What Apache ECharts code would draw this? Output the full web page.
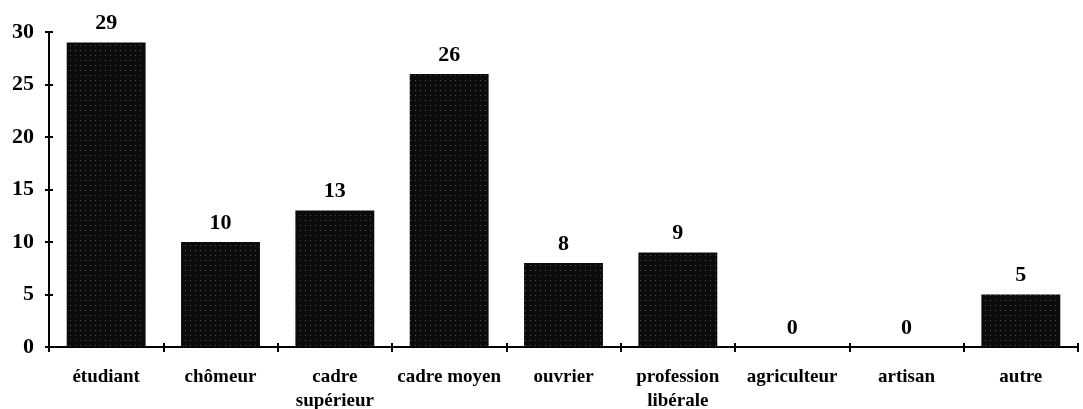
<!DOCTYPE html>
<html>
<head>
<meta charset="utf-8">
<script src="https://cdn.jsdelivr.net/npm/echarts@6/dist/echarts.min.js"></script>
<style>html,body{margin:0;padding:0;background:#fff}#c{width:1083px;height:409px}</style>
</head>
<body>
<div id="c"></div>
<script>
const categories = ['étudiant', 'chômeur', 'cadre\nsupérieur', 'cadre moyen', 'ouvrier', 'profession\nlibérale', 'agriculteur', 'artisan', 'autre'];
const values = [29, 10, 13, 26, 8, 9, 0, 0, 5];
const yTicks = { min: 0, max: 30, interval: 5 };

const font = '"Liberation Serif", "Times New Roman", serif';
const chart = echarts.init(document.getElementById('c'));
const axisLine = { show: true, lineStyle: { color: '#000', width: 2 } };
chart.setOption({
  animation: false,
  grid: { left: 49, right: 5, top: 32, bottom: 62, outerBoundsMode: 'none', containLabel: false },
  xAxis: [
    {
      type: 'category', data: categories, position: 'bottom',
      axisLine: axisLine,
      axisTick: { show: true, alignWithLabel: false, length: 5, lineStyle: { color: '#000', width: 2 } },
      axisLabel: { margin: 18, color: '#000', fontFamily: font, fontWeight: 'bold', fontSize: 19, lineHeight: 24, interval: 0 }
    },
    {
      type: 'category', data: categories, position: 'bottom',
      axisLine: { show: false },
      axisTick: { show: true, inside: true, length: 4, lineStyle: { color: '#000', width: 2 } },
      axisLabel: { show: false }
    }
  ],
  yAxis: [
    {
      type: 'value', min: yTicks.min, max: yTicks.max, interval: yTicks.interval,
      axisLine: axisLine,
      axisTick: { show: true, length: 4, lineStyle: { color: '#000', width: 2 } },
      splitLine: { show: false },
      axisLabel: { margin: 15, color: '#000', fontFamily: font, fontWeight: 'bold', fontSize: 22 }
    },
    {
      type: 'value', min: yTicks.min, max: yTicks.max, interval: yTicks.interval, position: 'left',
      axisLine: { show: false },
      axisTick: { show: true, inside: true, length: 4, lineStyle: { color: '#000', width: 2 } },
      splitLine: { show: false },
      axisLabel: { show: false }
    }
  ],
  series: [{
    type: 'bar', data: values, barWidth: '69%', xAxisIndex: 0, yAxisIndex: 0,
    itemStyle: {
      color: '#0b0b0b',
      decal: { symbol: 'rect', symbolSize: 1, color: 'rgba(255,255,255,0.28)', dashArrayX: [1, 4], dashArrayY: [1, 4] }
    },
    label: { show: true, position: 'top', distance: 8, color: '#000', fontFamily: font, fontWeight: 'bold', fontSize: 22 }
  }]
});
</script>
</body>
</html>
